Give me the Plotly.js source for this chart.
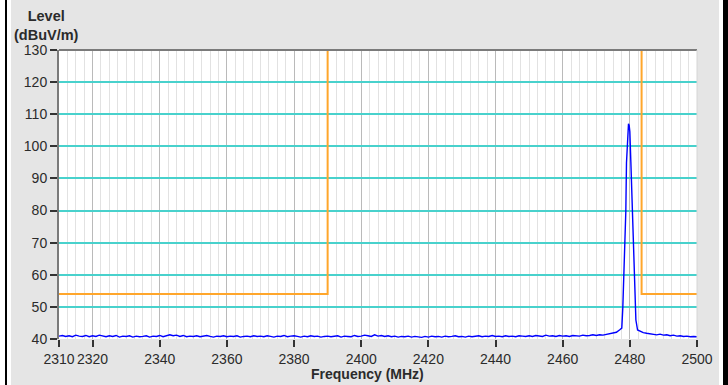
<!DOCTYPE html>
<html>
<head>
<meta charset="utf-8">
<script src="https://cdn.plot.ly/plotly-3.0.1.min.js"></script>
<style>
html,body{margin:0;padding:0;background:#ffffff;width:728px;height:385px;overflow:hidden;}
#bl{position:absolute;left:5px;top:0;width:2px;height:385px;background:#000;}
#br{position:absolute;left:723px;top:0;width:5px;height:385px;background:#000;}
#chart{position:absolute;left:11px;top:0;width:708px;height:385px;}
</style>
</head>
<body>
<div id="bl"></div>
<div id="br"></div>
<div id="chart"></div>
<script>
// Noise floor, 1 MHz steps from 2310 to 2477 MHz
const noiseStart = 2310;
const noiseStep = 1;
const noiseLevels = [
  40.9, 41.1, 40.8, 41.0, 40.7, 41.2, 40.9, 40.8, 41.1, 40.7,
  41.0, 40.8, 41.2, 40.9, 40.7, 41.0, 40.8, 41.1, 40.6, 40.9,
  40.8, 41.0, 40.6, 40.9, 40.7, 40.8, 41.0, 40.6, 40.9, 40.8,
  41.1, 40.7, 40.9, 41.3, 41.0, 41.2, 40.8, 41.1, 40.7, 40.9,
  40.8, 41.0, 40.7, 40.9, 41.1, 40.8, 40.6, 40.9, 40.8, 41.0,
  40.7, 40.9, 40.8, 41.0, 40.6, 40.8, 40.9, 40.7, 41.0, 40.8,
  40.9, 40.7, 41.0, 40.8, 40.6, 40.9, 40.8, 41.1, 40.7, 40.9,
  41.0, 40.8, 40.6, 40.9, 40.7, 41.0, 40.8, 40.9, 40.6, 40.8,
  40.9, 40.7, 40.8, 41.0, 40.6, 40.9, 40.8, 40.7, 41.1, 40.8,
  40.9, 41.2, 41.0, 40.8, 41.3, 40.9, 41.1, 40.8, 41.0, 40.7,
  40.9, 40.6, 40.8, 40.7, 40.9, 40.6, 40.8, 40.7, 40.5, 40.8,
  40.6, 40.9, 40.7, 40.8, 40.6, 40.9, 40.7, 40.8, 41.0, 40.7,
  40.8, 40.6, 40.9, 40.7, 40.8, 41.0, 40.7, 40.9, 40.8, 41.1,
  40.8, 40.9, 40.7, 41.0, 40.8, 40.9, 40.7, 41.0, 40.9, 40.8,
  41.0, 40.8, 41.1, 40.9, 40.8, 41.2, 40.9, 41.0, 40.8, 41.1,
  40.9, 41.0, 40.8, 41.1, 41.0, 40.9, 41.2, 41.0, 41.1, 41.3,
  41.1, 41.3, 41.2, 41.4, 41.5, 41.8, 42.1, 42.9
];
// Carrier peak near 2480 MHz
const peakFreq  = [2477.6, 2477.9, 2478.3, 2478.8, 2479.0, 2479.3, 2479.6, 2479.8, 2480.0, 2480.3, 2480.7, 2481.0, 2481.4, 2481.8, 2482.3];
const peakLevel = [43.4, 49.6, 62.5, 79.6, 94.8, 104.0, 107.0, 106.5, 104.6, 95.2, 83.3, 69.3, 55.9, 45.9, 42.8];
// Tail after the peak
const tailFreq  = [2483, 2484, 2485, 2486, 2487, 2488, 2489, 2490, 2491, 2492, 2493, 2494, 2495, 2496, 2497, 2498, 2499, 2500];
const tailLevel = [42.4, 42.0, 41.8, 41.7, 41.6, 41.3, 41.5, 41.2, 41.3, 41.0, 41.2, 40.9, 41.0, 40.8, 40.9, 40.7, 40.8, 40.7];
// Limit line segments
const limitLowFreq  = [2310, 2390, 2390];
const limitLowLevel = [54, 54, 130];
const limitHighFreq  = [2483.5, 2483.5, 2500];
const limitHighLevel = [130, 54, 54];
// Axis ticks
const xTicks = [2310, 2320, 2340, 2360, 2380, 2400, 2420, 2440, 2460, 2480, 2500];
const yTicks = [40, 50, 60, 70, 80, 90, 100, 110, 120, 130];

const traceFreq = noiseLevels.map((_, i) => noiseStart + i * noiseStep).concat(peakFreq, tailFreq);
const traceLevel = noiseLevels.concat(peakLevel, tailLevel);

const data = [
  {x: limitLowFreq, y: limitLowLevel, mode: 'lines', line: {color: '#ffa62b', width: 2}, hoverinfo: 'skip'},
  {x: limitHighFreq, y: limitHighLevel, mode: 'lines', line: {color: '#ffa62b', width: 2}, hoverinfo: 'skip'},
  {x: traceFreq, y: traceLevel, mode: 'lines', line: {color: '#0000ff', width: 1.4}}
];

const fontFam = 'Liberation Sans, Arial, sans-serif';
const tickFont = {family: fontFam, size: 14, color: '#2b2b2b'};
const layout = {
  width: 708, height: 385,
  margin: {l: 48, r: 22, t: 50, b: 46},
  paper_bgcolor: '#e5e5e5',
  plot_bgcolor: '#ffffff',
  showlegend: false,
  xaxis: {
    range: [2310, 2500],
    tickmode: 'array', tickvals: xTicks, ticktext: xTicks.map(String),
    ticks: 'outside', ticklen: 7, tickwidth: 2, tickcolor: '#333333',
    tickfont: tickFont,
    showgrid: true, gridcolor: '#bababa', gridwidth: 1,
    minor: {tickmode: 'linear', tick0: 2310, dtick: 2.5, showgrid: true, gridcolor: '#e2e2e2', gridwidth: 1, ticks: ''},
    zeroline: false, showline: false, fixedrange: true
  },
  yaxis: {
    range: [40, 130],
    tickmode: 'array', tickvals: yTicks, ticktext: yTicks.map(String),
    ticks: 'outside', ticklen: 7, tickwidth: 2, tickcolor: '#333333',
    tickfont: tickFont,
    showgrid: true, gridcolor: '#48d1cc', gridwidth: 2,
    zeroline: false, showline: true, linecolor: '#7a7a7a', linewidth: 2,
    fixedrange: true
  },
  shapes: [
    {type: 'line', xref: 'paper', yref: 'paper', x0: 0, x1: 1, y0: 1, y1: 1, line: {color: '#7a7a7a', width: 2}},
    {type: 'line', xref: 'paper', yref: 'paper', x0: 1, x1: 1, y0: 0, y1: 1, line: {color: '#d6d6d6', width: 1}}
  ],
  annotations: [
    {text: '<b>Level</b><br><b>(dBuV/m)</b>', xref: 'paper', yref: 'paper',
     x: 0, y: 1, xshift: -13, yshift: 5, xanchor: 'center', yanchor: 'bottom', showarrow: false,
     font: {family: fontFam, size: 14.5, color: '#2b2b2b'}},
    {text: '<b>Frequency (MHz)</b>', xref: 'paper', yref: 'paper', x: 0.483, y: 0, yshift: -25,
     xanchor: 'center', yanchor: 'top', showarrow: false,
     font: {family: fontFam, size: 14, color: '#2b2b2b'}}
  ]
};

Plotly.newPlot('chart', data, layout, {staticPlot: true, displayModeBar: false});
</script>
</body>
</html>
